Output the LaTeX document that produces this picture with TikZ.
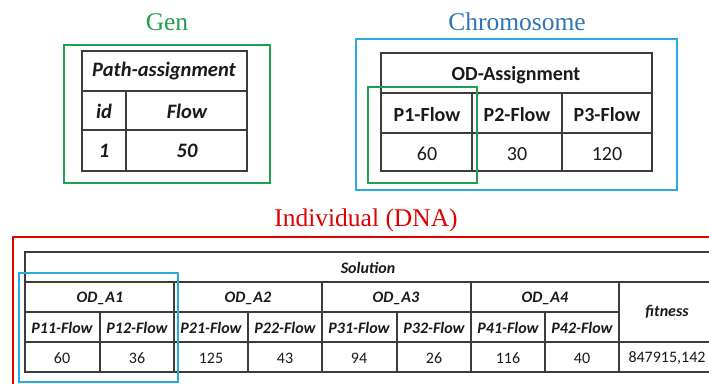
\documentclass[tikz,border=0pt]{standalone}
\usepackage{fontspec}
\setmainfont{Liberation Serif}
\newfontfamily\calibri{Carlito}
\usepackage{xcolor}
\usepackage{tikz}
\definecolor{gengreen}{HTML}{21A050}
\definecolor{chromblue}{HTML}{2E75B6}
\definecolor{boxblue}{HTML}{29AAE1}
\definecolor{indred}{HTML}{E00000}
\definecolor{grid}{HTML}{3C3C3C}
\definecolor{ink}{HTML}{1A1A1A}
\tikzset{
  grd/.style={draw=grid, line width=1.6pt},
  ttl/.style={font=\fontsize{25.5}{25.5}\selectfont},
  bi/.style={text=ink, font=\calibri\bfseries\itshape\fontsize{20.5}{20.5}\selectfont},
  bd/.style={text=ink, font=\calibri\bfseries\fontsize{20}{20}\selectfont},
  nm/.style={text=ink, font=\calibri\fontsize{20}{20}\selectfont},
  sbi/.style={text=ink, font=\calibri\bfseries\itshape\fontsize{16}{16}\selectfont},
  snm/.style={text=ink, font=\calibri\fontsize{16}{16}\selectfont}
}

\begin{document}
\begin{tikzpicture}[x=1pt, y=-1pt]
\clip (0,0) rectangle (709,383);
\fill[white] (0,0) rectangle (709,383);
% gen
\node[ttl, text=gengreen] (gen) at (167,22) {Gen};
\draw[gengreen, line width=1.6pt] (64,45) rectangle (270,183);
\draw[grd] (82,51) rectangle (247,171);
\draw[grd] (82,91)--(247,91) (82,130)--(247,130) (126,91)--(126,171);
\node[bi] (pa) at (164,71) {Path-assignment};
\node[bi] (id) at (104,111) {id};
\node[bi] (flow) at (187,111) {Flow};
\node[bi] (one) at (104,151) {1};
\node[bi] (fifty) at (187,151) {50};
% chromosome
\node[ttl, text=chromblue] (chrom) at (517,22) {Chromosome};
\draw[boxblue, line width=1.6pt] (356,39) rectangle (677,190);
\draw[grd] (381,53) rectangle (652,171);
\draw[grd] (381,93)--(652,93) (381,133)--(652,133) (472,93)--(472,171) (562,93)--(562,171);
\node[bd] (oda) at (516,75) {OD-Assignment};
\node[bd] (p1) at (427,115) {P1-Flow};
\node[bd] (p2) at (517,115) {P2-Flow};
\node[bd] (p3) at (607,115) {P3-Flow};
\node[nm] (v1) at (427,154) {60};
\node[nm] (v2) at (517,154) {30};
\node[nm] (v3) at (607,154) {120};
\draw[gengreen, line width=1.6pt] (368,87) rectangle (477,183);
% individual
\node[ttl, text=indred] (ind) at (366,220) {Individual (DNA)};
\draw[indred, line width=1.6pt] (715,237)--(13,237)--(13,390);
\draw[grd] (25,252) rectangle (716,372);
\draw[grd] (25,282)--(716,282) (25,312)--(619,312) (25,342)--(716,342);
\draw[grd] (174,282)--(174,372) (322,282)--(322,372) (471,282)--(471,372) (619,282)--(619,372);
\draw[grd] (100,312)--(100,372) (248,312)--(248,372) (397,312)--(397,372) (545,312)--(545,372);
\node[sbi] (sol) at (368,268) {Solution};
\node[sbi] (a1) at (100,298) {OD\_A1};
\node[sbi] (a2) at (248,298) {OD\_A2};
\node[sbi] (a3) at (396,298) {OD\_A3};
\node[sbi] (a4) at (545,298) {OD\_A4};
\node[sbi] (fit) at (667,312) {fitness};
\node[sbi] (p11) at (62,328) {P11-Flow};
\node[sbi] (p12) at (137,328) {P12-Flow};
\node[sbi] (p21) at (211,328) {P21-Flow};
\node[sbi] (p22) at (285,328) {P22-Flow};
\node[sbi] (p31) at (359,328) {P31-Flow};
\node[sbi] (p32) at (434,328) {P32-Flow};
\node[sbi] (p41) at (508,328) {P41-Flow};
\node[sbi] (p42) at (582,328) {P42-Flow};
\node[snm] (w11) at (62,358) {60};
\node[snm] (w12) at (137,358) {36};
\node[snm] (w21) at (211,358) {125};
\node[snm] (w22) at (285,358) {43};
\node[snm] (w31) at (359,358) {94};
\node[snm] (w32) at (434,358) {26};
\node[snm] (w41) at (508,358) {116};
\node[snm] (w42) at (582,358) {40};
\node[snm] (wf) at (667,358) {847915,142};
\draw[boxblue, line width=1.6pt] (19,273) rectangle (178,382);
\end{tikzpicture}
\end{document}
